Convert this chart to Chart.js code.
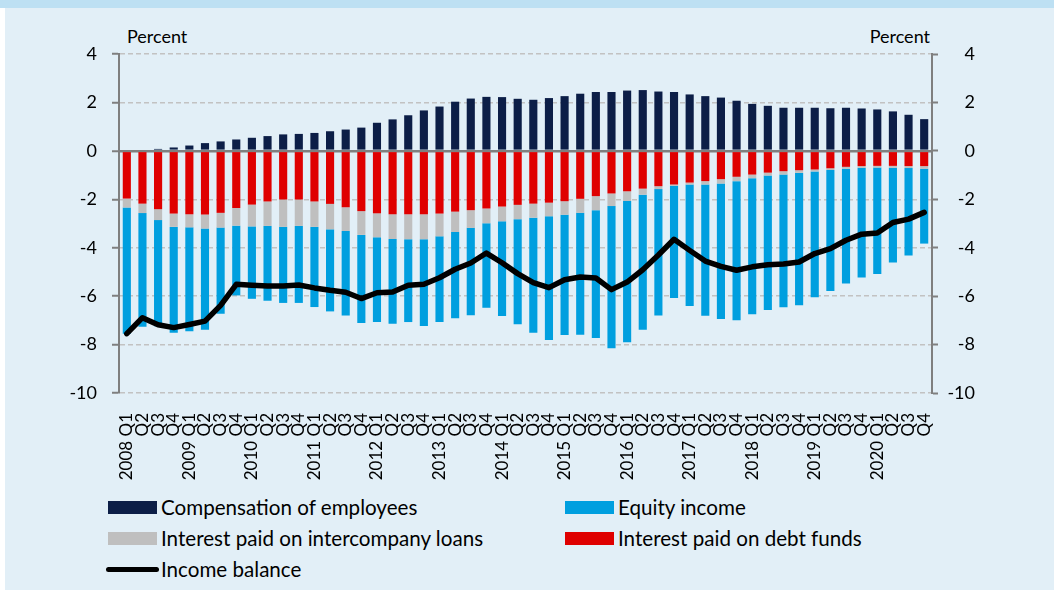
<!DOCTYPE html>
<html>
<head>
<meta charset="utf-8">
<script src="https://cdn.jsdelivr.net/npm/chart.js@4"></script>
<style>
    html, body { margin: 0; padding: 0; }
    body { width: 1054px; height: 590px; background: #ffffff; position: relative; overflow: hidden; font-family: Lato, "Liberation Sans", sans-serif; }
    #band { position: absolute; left: 0; top: 0; width: 1054px; height: 8px; background: #bde0f3; }
    #panel { position: absolute; left: 5px; top: 8px; width: 1049px; height: 582px; background: #e2eff7; }
    #wrap { position: absolute; left: 0; top: 0; width: 1054px; height: 492px; }
    .unit { position: absolute; top: 25px; font-size: 18px; color: #000; line-height: 22px; }
    .leg { position: absolute; font-size: 20.6px; color: #000; line-height: 24px; white-space: nowrap; }
    .leg i { position: absolute; display: block; }
</style>
</head>
<body>
<div id="band"></div>
<div id="panel"></div>
<div class="unit" style="left:127px;">Percent</div>
<div class="unit" style="right:124px;">Percent</div>
<div id="wrap"><canvas id="incomeChart"></canvas></div>
<div id="legend"></div>
<script>
// Quarters 2008 Q1 - 2020 Q4
const years = ['2008', '2009', '2010', '2011', '2012', '2013', '2014', '2015', '2016', '2017', '2018', '2019', '2020'];
const quarters = ['Q1', 'Q2', 'Q3', 'Q4'];

const compensation = [0, 0, 0.08, 0.14, 0.22, 0.32, 0.39, 0.47, 0.54, 0.61, 0.68, 0.70, 0.74, 0.81, 0.88, 0.96,
    1.16, 1.30, 1.47, 1.67, 1.83, 2.03, 2.16, 2.23, 2.22, 2.15, 2.11, 2.18, 2.26, 2.36, 2.43, 2.43,
    2.49, 2.51, 2.45, 2.43, 2.33, 2.26, 2.20, 2.07, 1.94, 1.86, 1.78, 1.78, 1.78, 1.76, 1.78, 1.75,
    1.71, 1.63, 1.49, 1.31];
const debtInterest = [-1.97, -2.18, -2.41, -2.59, -2.62, -2.63, -2.56, -2.36, -2.22, -2.09, -2.01, -2.01, -2.09, -2.19, -2.33, -2.49,
    -2.58, -2.62, -2.62, -2.62, -2.59, -2.51, -2.45, -2.38, -2.30, -2.23, -2.18, -2.14, -2.08, -1.98, -1.87, -1.76,
    -1.67, -1.56, -1.46, -1.39, -1.31, -1.25, -1.17, -1.07, -0.98, -0.90, -0.84, -0.80, -0.77, -0.72, -0.66, -0.63,
    -0.62, -0.62, -0.63, -0.63];
const loanInterest = [-0.37, -0.39, -0.45, -0.55, -0.54, -0.58, -0.61, -0.73, -0.90, -1.01, -1.13, -1.09, -1.05, -1.05, -0.98, -0.98,
    -0.99, -1.02, -1.03, -1.03, -0.94, -0.84, -0.73, -0.61, -0.61, -0.59, -0.58, -0.56, -0.56, -0.58, -0.58, -0.52,
    -0.40, -0.25, -0.12, -0.06, -0.08, -0.14, -0.18, -0.18, -0.15, -0.12, -0.14, -0.11, -0.08, -0.07, -0.08, -0.07,
    -0.07, -0.08, -0.08, -0.11];
const equityIncome = [-5.21, -4.69, -4.38, -4.37, -4.29, -4.18, -3.56, -2.88, -2.99, -3.09, -3.14, -3.18, -3.31, -3.39, -3.49, -3.64,
    -3.50, -3.50, -3.42, -3.58, -3.54, -3.56, -3.61, -3.49, -3.91, -4.34, -4.75, -5.11, -4.96, -5.03, -5.28, -5.87,
    -5.83, -5.58, -5.22, -4.63, -5.02, -5.42, -5.59, -5.75, -5.62, -5.55, -5.48, -5.47, -5.20, -5.00, -4.74, -4.53,
    -4.40, -3.91, -3.61, -3.09];
const incomeBalance = [-7.55, -6.89, -7.18, -7.30, -7.17, -7.03, -6.38, -5.51, -5.55, -5.58, -5.58, -5.54, -5.66, -5.76, -5.84, -6.10,
    -5.86, -5.83, -5.55, -5.51, -5.24, -4.89, -4.63, -4.22, -4.62, -5.07, -5.44, -5.65, -5.32, -5.21, -5.25, -5.73,
    -5.42, -4.91, -4.30, -3.65, -4.11, -4.55, -4.77, -4.93, -4.79, -4.70, -4.67, -4.59, -4.24, -4.04, -3.69, -3.44,
    -3.39, -2.96, -2.82, -2.54];

const yTicks = [4, 2, 0, -2, -4, -6, -8, -10];

// Build category labels: year only on the first quarter
const labels = [];
years.forEach(y => quarters.forEach(q => labels.push(q === 'Q1' ? y + ' ' + q : q)));

const navy = '#0c1e47';
const blue = '#009fdf';
const grey = '#bfbfbf';
const red = '#df0000';
const axisGrey = '#7f7f7f';

Chart.defaults.font.family = 'Lato, "Liberation Sans", sans-serif';
Chart.defaults.color = '#000';

function barSet(label, data, color) {
    return {
        type: 'bar',
        label: label,
        data: data,
        backgroundColor: color,
        borderWidth: 0,
        stack: 'bars',
        order: 1,
        barPercentage: 0.52,
        categoryPercentage: 1.0
    };
}

const isZero = ctx => ctx.tick && ctx.tick.value === 0;

new Chart(document.getElementById('incomeChart'), {
    data: {
        labels: labels,
        datasets: [
            {
                type: 'line',
                label: 'Income balance',
                data: incomeBalance,
                borderColor: '#000',
                backgroundColor: '#000',
                borderWidth: 5.5,
                pointRadius: 0,
                tension: 0,
                borderCapStyle: 'round',
                borderJoinStyle: 'round',
                stack: 'line',
                order: 0
            },
            barSet('Compensation of employees', compensation, navy),
            barSet('Interest paid on debt funds', debtInterest, red),
            barSet('Interest paid on intercompany loans', loanInterest, grey),
            barSet('Equity income', equityIncome, blue)
        ]
    },
    options: {
        responsive: true,
        maintainAspectRatio: false,
        animation: false,
        layout: { padding: { top: 54, right: 79, bottom: 0, left: 0 } },
        plugins: {
            legend: { display: false },
            tooltip: { enabled: false }
        },
        scales: {
            x: {
                stacked: true,
                grid: { display: false, drawTicks: false },
                border: { display: false },
                ticks: {
                    autoSkip: false,
                    minRotation: 90,
                    maxRotation: 90,
                    padding: 20,
                    font: { size: 17 }
                },
                afterFit: scale => { scale.height = 99; }
            },
            y: {
                stacked: true,
                position: 'left',
                min: -10,
                max: 4,
                afterBuildTicks: scale => { scale.ticks = yTicks.map(v => ({ value: v })); },
                ticks: { padding: 15, font: { size: 18 } },
                grid: {
                    color: ctx => isZero(ctx) ? axisGrey : '#c2c2c2',
                    lineWidth: ctx => isZero(ctx) ? 2.5 : 1.5,
                    drawTicks: true,
                    tickLength: 7,
                    tickColor: axisGrey,
                    tickWidth: 2
                },
                border: {
                    display: true,
                    color: axisGrey,
                    width: 2,
                    dash: ctx => isZero(ctx) ? [] : [5, 3]
                },
                afterFit: scale => { scale.width = 119; }
            },
            y2: {
                position: 'right',
                min: -10,
                max: 4,
                afterBuildTicks: scale => { scale.ticks = yTicks.map(v => ({ value: v })); },
                ticks: { crossAlign: 'far', font: { size: 18 } },
                grid: {
                    drawOnChartArea: false,
                    drawTicks: true,
                    tickLength: 6,
                    tickColor: axisGrey,
                    tickWidth: 2
                },
                border: { display: true, color: axisGrey, width: 2 },
                afterFit: scale => { scale.width = 43; }
            }
        }
    }
});

// Legend laid out in two columns like the original
const legendItems = [
    { text: 'Compensation of employees', color: navy, x: 108, y: 507, kind: 'box' },
    { text: 'Equity income', color: blue, x: 565, y: 507, kind: 'box' },
    { text: 'Interest paid on intercompany loans', color: grey, x: 108, y: 538, kind: 'box' },
    { text: 'Interest paid on debt funds', color: red, x: 565, y: 538, kind: 'box' },
    { text: 'Income balance', color: '#000', x: 106, y: 569, kind: 'line' }
];
const legendEl = document.getElementById('legend');
legendItems.forEach(item => {
    const el = document.createElement('div');
    el.className = 'leg';
    el.style.left = item.x + 'px';
    el.style.top = (item.y - 12) + 'px';
    el.style.paddingLeft = (item.kind === 'box' ? 53 : 55) + 'px';
    const sw = document.createElement('i');
    if (item.kind === 'box') {
        sw.style.cssText = `left:0;top:6px;width:49px;height:13px;background:${item.color};`;
    } else {
        sw.style.cssText = `left:0;top:10px;width:53px;height:5px;border-radius:3px;background:${item.color};`;
    }
    el.appendChild(sw);
    el.appendChild(document.createTextNode(item.text));
    legendEl.appendChild(el);
});
</script>
</body>
</html>
